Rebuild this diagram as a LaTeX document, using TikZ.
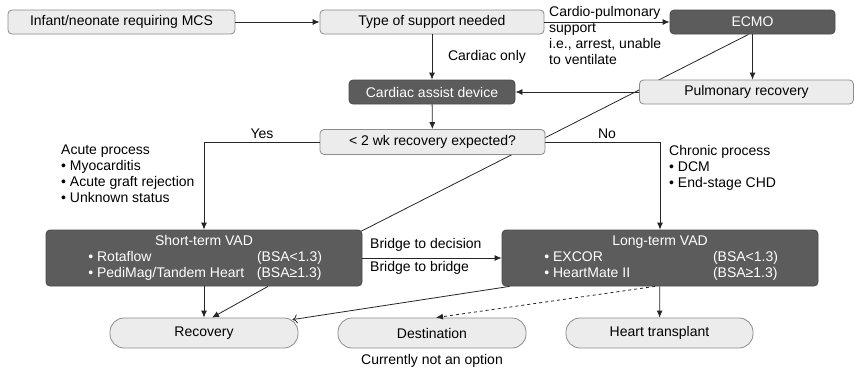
\documentclass[tikz,border=0pt]{standalone}
\usepackage{fontspec}
\setmainfont{Liberation Sans}
\usepackage{tikz}
\usetikzlibrary{arrows.meta,backgrounds,calc}
\definecolor{boxfill}{HTML}{ECECEC}
\definecolor{boxline}{HTML}{8C8C8C}
\definecolor{darkfill}{HTML}{5C5C5C}
\definecolor{darkline}{HTML}{4A4A4A}
\tikzstyle{lbox}=[rectangle, rounded corners=4pt, fill=boxfill, draw=boxline, line width=0.8pt, minimum height=24pt, inner sep=0pt, anchor=center]
\tikzstyle{dbox}=[lbox, fill=darkfill, draw=darkline, text=white]
\tikzstyle{pill}=[lbox, rounded corners=14pt, minimum height=30pt]
\tikzstyle{annot}=[align=left, inner sep=0pt]
\tikzstyle{link}=[draw=black!85, line width=0.8pt]
\tikzstyle{arr}=[link, -{Latex[length=7pt,width=6pt]}]
\newcommand{\vadtext}[5]
{
  \begin{tabular}{@{}p{171pt}@{}l@{}}
  \multicolumn{2}{@{}c@{}}{#1}\\
  \,\textbullet\ #2 & #3\\
  \,\textbullet\ #4 & #5
  \end{tabular}
}
\begin{document}
\begin{tikzpicture}[x=1pt, y=-1pt, font=\fontsize{14}{16}\selectfont]
	\useasboundingbox (0,0) rectangle (854,367);

	% top row
	\node[lbox, minimum width=227pt](infant) at (121.5,22){Infant/neonate requiring MCS};
	\node[lbox, minimum width=224pt](support) at (432,22){Type of support needed};
	\node[dbox, minimum width=165pt](ecmo) at (752.5,22){ECMO};

	% middle
	\node[dbox, minimum width=166pt](cardiac) at (432,92){Cardiac assist device};
	\node[lbox, minimum width=214pt](pulmonary) at (746.5,92){Pulmonary recovery};
	\node[lbox, minimum width=225pt, minimum height=25pt](expected) at (432.5,142){< 2 wk recovery expected?};

	% devices
	\node[dbox, minimum width=316pt, minimum height=56pt](shortvad) at (204,258){\vadtext{Short-term VAD}{Rotaflow}{(BSA<1.3)}{PediMag/Tandem Heart}{(BSA≥1.3)}};
	\node[dbox, minimum width=316pt, minimum height=56pt](longvad) at (660,258){\vadtext{Long-term VAD}{EXCOR}{(BSA<1.3)}{HeartMate II}{(BSA≥1.3)}};

	% outcomes
	\node[pill, minimum width=188pt](recovery) at (204,333){Recovery};
	\node[pill, minimum width=188pt](destination) at (432,333){Destination};
	\node[pill, minimum width=187pt](transplant) at (659.5,333){Heart transplant};

	% annotations
	\node[annot, anchor=north west](cpnote) at (549,6){Cardio-pulmonary\\support\\i.e., arrest, unable\\to ventilate};
	\node[annot](cardonly) at (487,57){Cardiac only};
	\node[annot](yes) at (262,134){Yes};
	\node[annot](no) at (607,134){No};
	\node[annot, anchor=north west](acute) at (61,145){Acute process\\\textbullet\ Myocarditis\\\textbullet\ Acute graft rejection\\\textbullet\ Unknown status};
	\node[annot, anchor=north west](chronic) at (669,145){Chronic process\\\textbullet\ DCM\\\textbullet\ End-stage CHD};
	\node[annot, anchor=west](decision) at (370,245){Bridge to decision};
	\node[annot, anchor=west](bridge) at (370,268){Bridge to bridge};
	\node[annot](noption) at (432,361){Currently not an option};

	% connectors
	\draw[arr] (infant) -- (support);
	\draw[arr] (support) -- (ecmo);
	\draw[arr] (support) -- (cardiac);
	\draw[arr] (ecmo.south) -- (ecmo.south |- pulmonary.north);
	\draw[arr] (pulmonary) -- (cardiac);
	\draw[arr] (cardiac) -- (expected);
	\draw[arr] (expected.west) -| (shortvad.north);
	\draw[arr] (expected.east) -| (longvad.north);
	\draw[arr] (shortvad) -- (longvad);
	\draw[arr] (shortvad.south) -- (recovery.north);
	\draw[arr] ([xshift=64pt]shortvad.south) -- ([xshift=8pt]recovery.north);
	\draw[link, -{To[length=5pt,width=9pt]}] ([xshift=8pt]longvad.south west) -- ([xshift=-6pt,yshift=-2pt]recovery.north east);
	\draw[arr, dashed] ([xshift=-5pt]longvad.south) -- ([xshift=4pt]destination.north);
	\draw[arr] (longvad) -- (transplant);
	\begin{scope}[on background layer]
		\draw[link] ([xshift=-4pt]ecmo.south) -- ([xshift=-2pt,yshift=-2pt]shortvad.north east);
	\end{scope}

\end{tikzpicture}
\end{document}
